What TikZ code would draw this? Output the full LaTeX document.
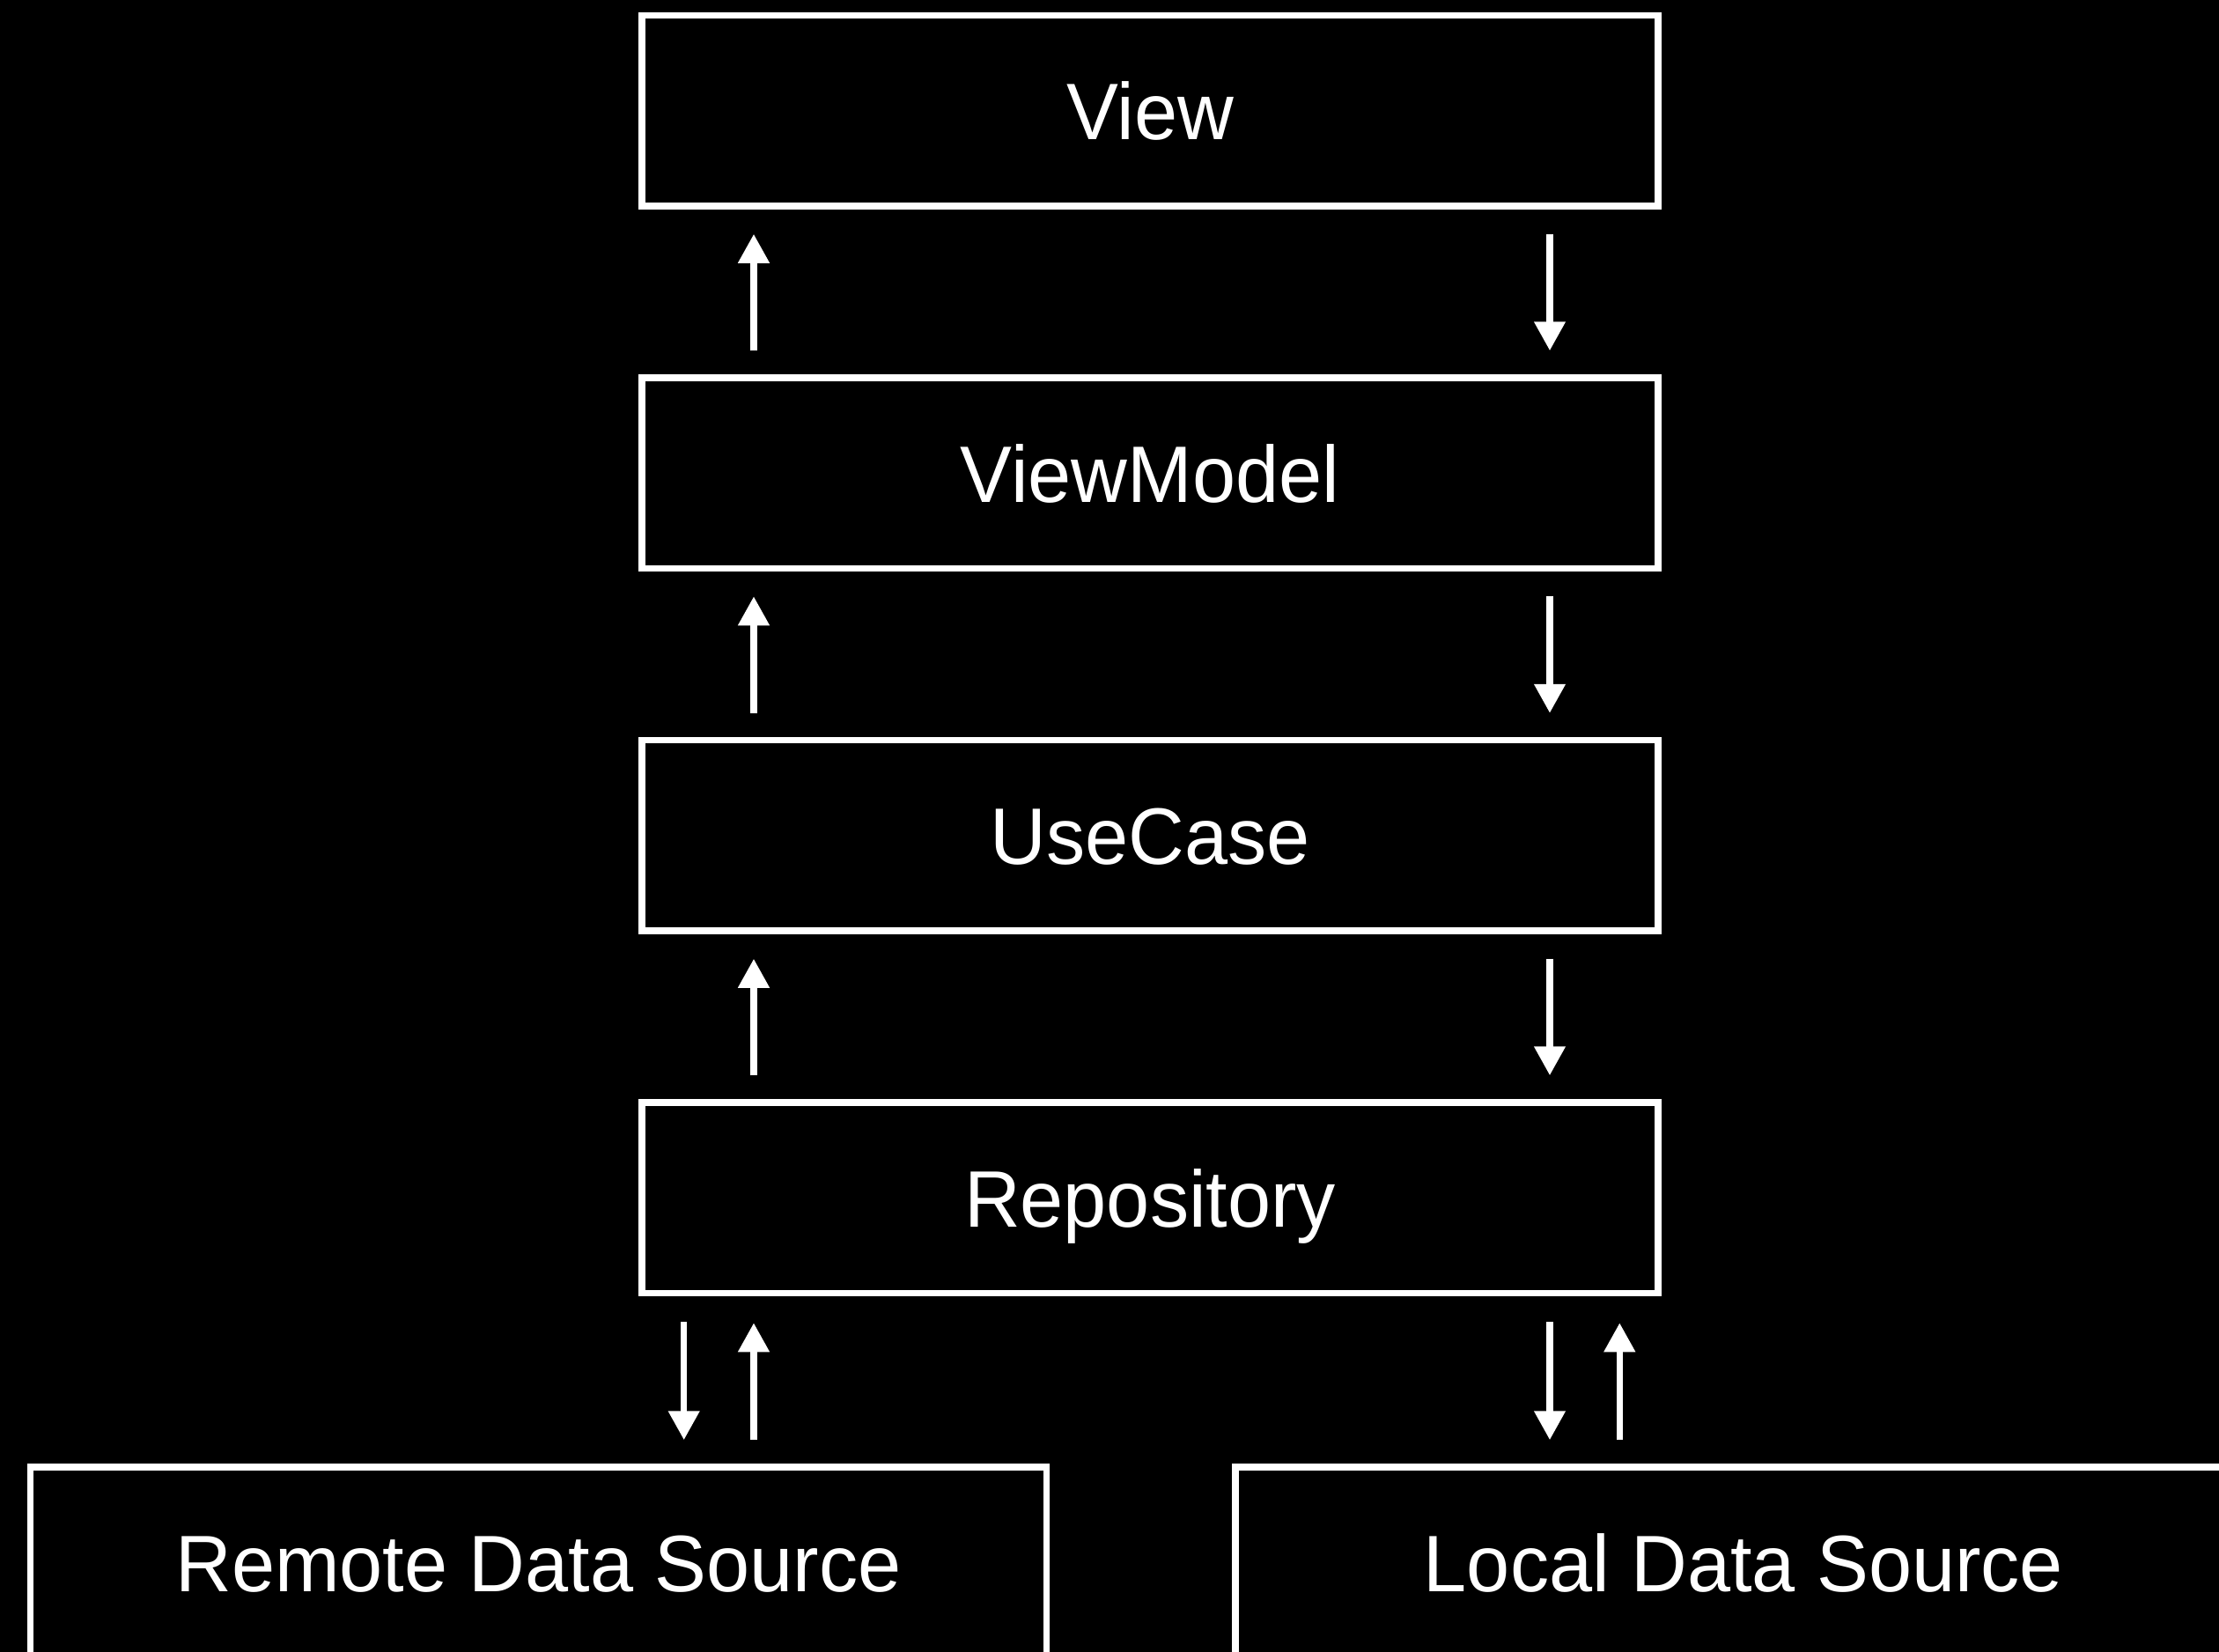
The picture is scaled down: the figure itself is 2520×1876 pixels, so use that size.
\documentclass[tikz,border=0pt]{standalone}
\usepackage{fontspec}
\setmainfont{Liberation Sans}[FakeStretch=0.97]
\usetikzlibrary{arrows.meta}

\tikzset{
  layer/.style={draw=white, line width=7.5pt, fill=black, rectangle,
    minimum width=1154pt, minimum height=216.5pt, inner sep=0pt,
    text=white, font=\fontsize{91pt}{100pt}\selectfont,
    text height=65.5pt, text depth=0pt},
  flow/.style={draw=white, line width=7.5pt,
    -{Triangle[width=34pt,length=33pt]}},
}

\begin{document}
\begin{tikzpicture}[x=1pt, y=-1pt]
  % canvas
  \fill[black] (0,0) rectangle (2520,1876);
  \useasboundingbox (0,0) rectangle (2520,1876);

  % layers
  \node[layer] (view) at (1306,125.75) {View};
  \node[layer] (vm)   at (1306,537.25) {ViewModel};
  \node[layer] (uc)   at (1306,948.75) {UseCase};
  \node[layer] (repo) at (1306,1360.25) {Repository};
  \node[layer] (remote) at (611.5,1774.25) {Remote Data Source};
  \node[layer] (local)  at (1980,1774.25) {Local Data Source};

  % arrow columns
  \coordinate (upA)   at (856,0);
  \coordinate (downA) at (1760,0);
  \coordinate (downR) at (776.7,0);
  \coordinate (upL)   at (1839.3,0);

  % data flowing up the stack
  \draw[flow, shorten <=27pt, shorten >=28pt] (vm.north -| upA) -- (view.south -| upA);
  \draw[flow, shorten <=27pt, shorten >=28pt] (uc.north -| upA) -- (vm.south -| upA);
  \draw[flow, shorten <=27pt, shorten >=28pt] (repo.north -| upA) -- (uc.south -| upA);

  % requests flowing down the stack
  \draw[flow, shorten <=28pt, shorten >=27pt] (view.south -| downA) -- (vm.north -| downA);
  \draw[flow, shorten <=28pt, shorten >=27pt] (vm.south -| downA) -- (uc.north -| downA);
  \draw[flow, shorten <=28pt, shorten >=27pt] (uc.south -| downA) -- (repo.north -| downA);

  % repository <-> data sources
  \draw[flow, shorten <=29pt, shorten >=27pt] (repo.south -| downR) -- (remote.north -| downR);
  \draw[flow, shorten <=27pt, shorten >=30pt] (remote.north -| upA) -- (repo.south -| upA);
  \draw[flow, shorten <=29pt, shorten >=27pt] (repo.south -| downA) -- (local.north -| downA);
  \draw[flow, shorten <=27pt, shorten >=30pt] (local.north -| upL) -- (repo.south -| upL);
\end{tikzpicture}
\end{document}
